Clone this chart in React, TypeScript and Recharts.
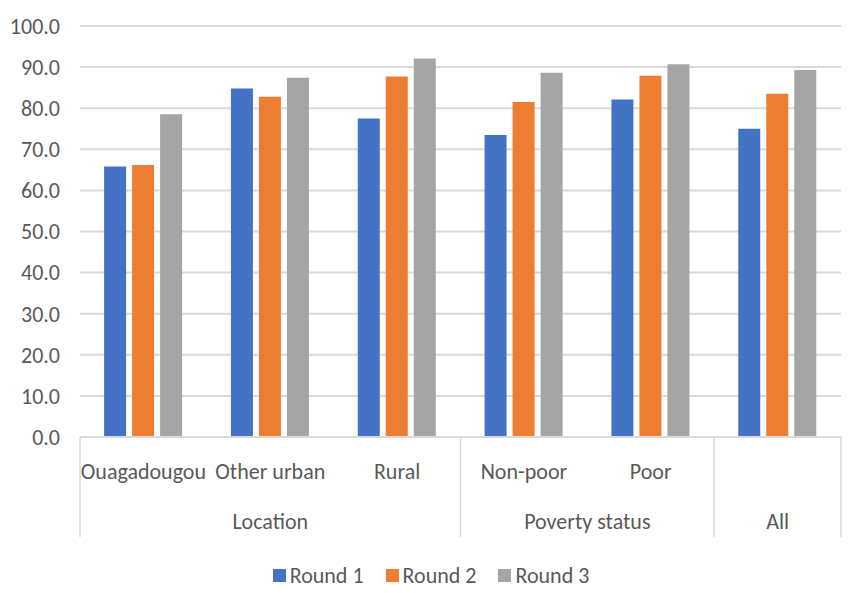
import { BarChart, Bar, XAxis, YAxis, CartesianGrid, Legend } from 'recharts'

const categories = ['Ouagadougou', 'Other urban', 'Rural', 'Non-poor', 'Poor', '']
const groups = ['Location', 'Location', 'Location', 'Poverty status', 'Poverty status', 'All']
const round1 = [65.8, 84.8, 77.5, 73.5, 82.1, 75.0]
const round2 = [66.2, 82.8, 87.7, 81.5, 87.9, 83.5]
const round3 = [78.5, 87.4, 92.1, 88.6, 90.7, 89.3]
const yTicks = [0, 10, 20, 30, 40, 50, 60, 70, 80, 90, 100]

const seriesNames = ['Round 1', 'Round 2', 'Round 3']
const colors = ['#4472C4', '#ED7D31', '#A5A5A5']

const FONT = 'Carlito, Calibri, Lato, sans-serif'
const TEXT = '#595959'
const GRID = '#D9D9D9'

const W = 859
const H = 593
const MARGIN = { top: 26, right: 18, left: 0, bottom: 0 }
const Y_W = 80
const BAND = (W - MARGIN.left - MARGIN.right - Y_W) / categories.length

const data = categories.map((name, i) => ({
  name,
  group: groups[i],
  r1: round1[i],
  r2: round2[i],
  r3: round3[i],
}))

function groupSpan(i: number) {
  let n = 1
  while (i + n < groups.length && groups[i + n] === groups[i]) n++
  return n
}

function CategoryTick(props: any) {
  const { x, y, index } = props
  const isFirst = index === 0 || groups[index] !== groups[index - 1]
  const isLast = index === categories.length - 1
  const left = x - BAND / 2
  return (
    <g>
      <text x={x} y={y + 42} textAnchor="middle" fill={TEXT} fontSize={22} fontFamily={FONT}>
        {categories[index]}
      </text>
      {isFirst && (
        <>
          <line x1={left} x2={left} y1={y} y2={y + 100} stroke={GRID} strokeWidth={1.5} />
          <text
            x={left + (groupSpan(index) * BAND) / 2}
            y={y + 92}
            textAnchor="middle"
            fill={TEXT}
            fontSize={22}
            fontFamily={FONT}
          >
            {groups[index]}
          </text>
        </>
      )}
      {isLast && <line x1={x + BAND / 2} x2={x + BAND / 2} y1={y} y2={y + 100} stroke={GRID} strokeWidth={1.5} />}
    </g>
  )
}

function LegendContent() {
  return (
    <div style={{ height: 36, paddingLeft: 21, display: 'flex', justifyContent: 'center', alignItems: 'center', gap: 22, fontFamily: FONT, fontSize: 22, color: TEXT }}>
      {seriesNames.map((s, i) => (
        <div key={s} style={{ display: 'flex', alignItems: 'center' }}>
          <span style={{ display: 'inline-block', width: 13, height: 13, background: colors[i], marginRight: 4 }} />
          <span>{s}</span>
        </div>
      ))}
    </div>
  )
}

export default function App() {
  return (
    <div style={{ position: 'absolute', left: 0, top: 0, background: '#fff' }}>
      <BarChart width={W} height={H} data={data} margin={MARGIN} barCategoryGap="19%" barGap={6}>
        <CartesianGrid horizontal vertical={false} stroke={GRID} strokeWidth={2} />
        <XAxis
          dataKey="name"
          interval={0}
          height={120}
          tickLine={false}
          tickSize={0}
          tickMargin={0}
          axisLine={{ stroke: GRID, strokeWidth: 2 }}
          tick={<CategoryTick />}
        />
        <YAxis
          width={Y_W}
          domain={[0, 100]}
          ticks={yTicks}
          interval={0}
          axisLine={false}
          tickLine={false}
          tickSize={0}
          tickMargin={20}
          tickFormatter={(v: number) => v.toFixed(1)}
          tick={{ fill: TEXT, fontSize: 22, fontFamily: FONT }}
        />
        <Legend verticalAlign="bottom" content={<LegendContent />} />
        <Bar dataKey="r1" name="Round 1" fill={colors[0]} isAnimationActive={false} />
        <Bar dataKey="r2" name="Round 2" fill={colors[1]} isAnimationActive={false} />
        <Bar dataKey="r3" name="Round 3" fill={colors[2]} isAnimationActive={false} />
      </BarChart>
    </div>
  )
}
